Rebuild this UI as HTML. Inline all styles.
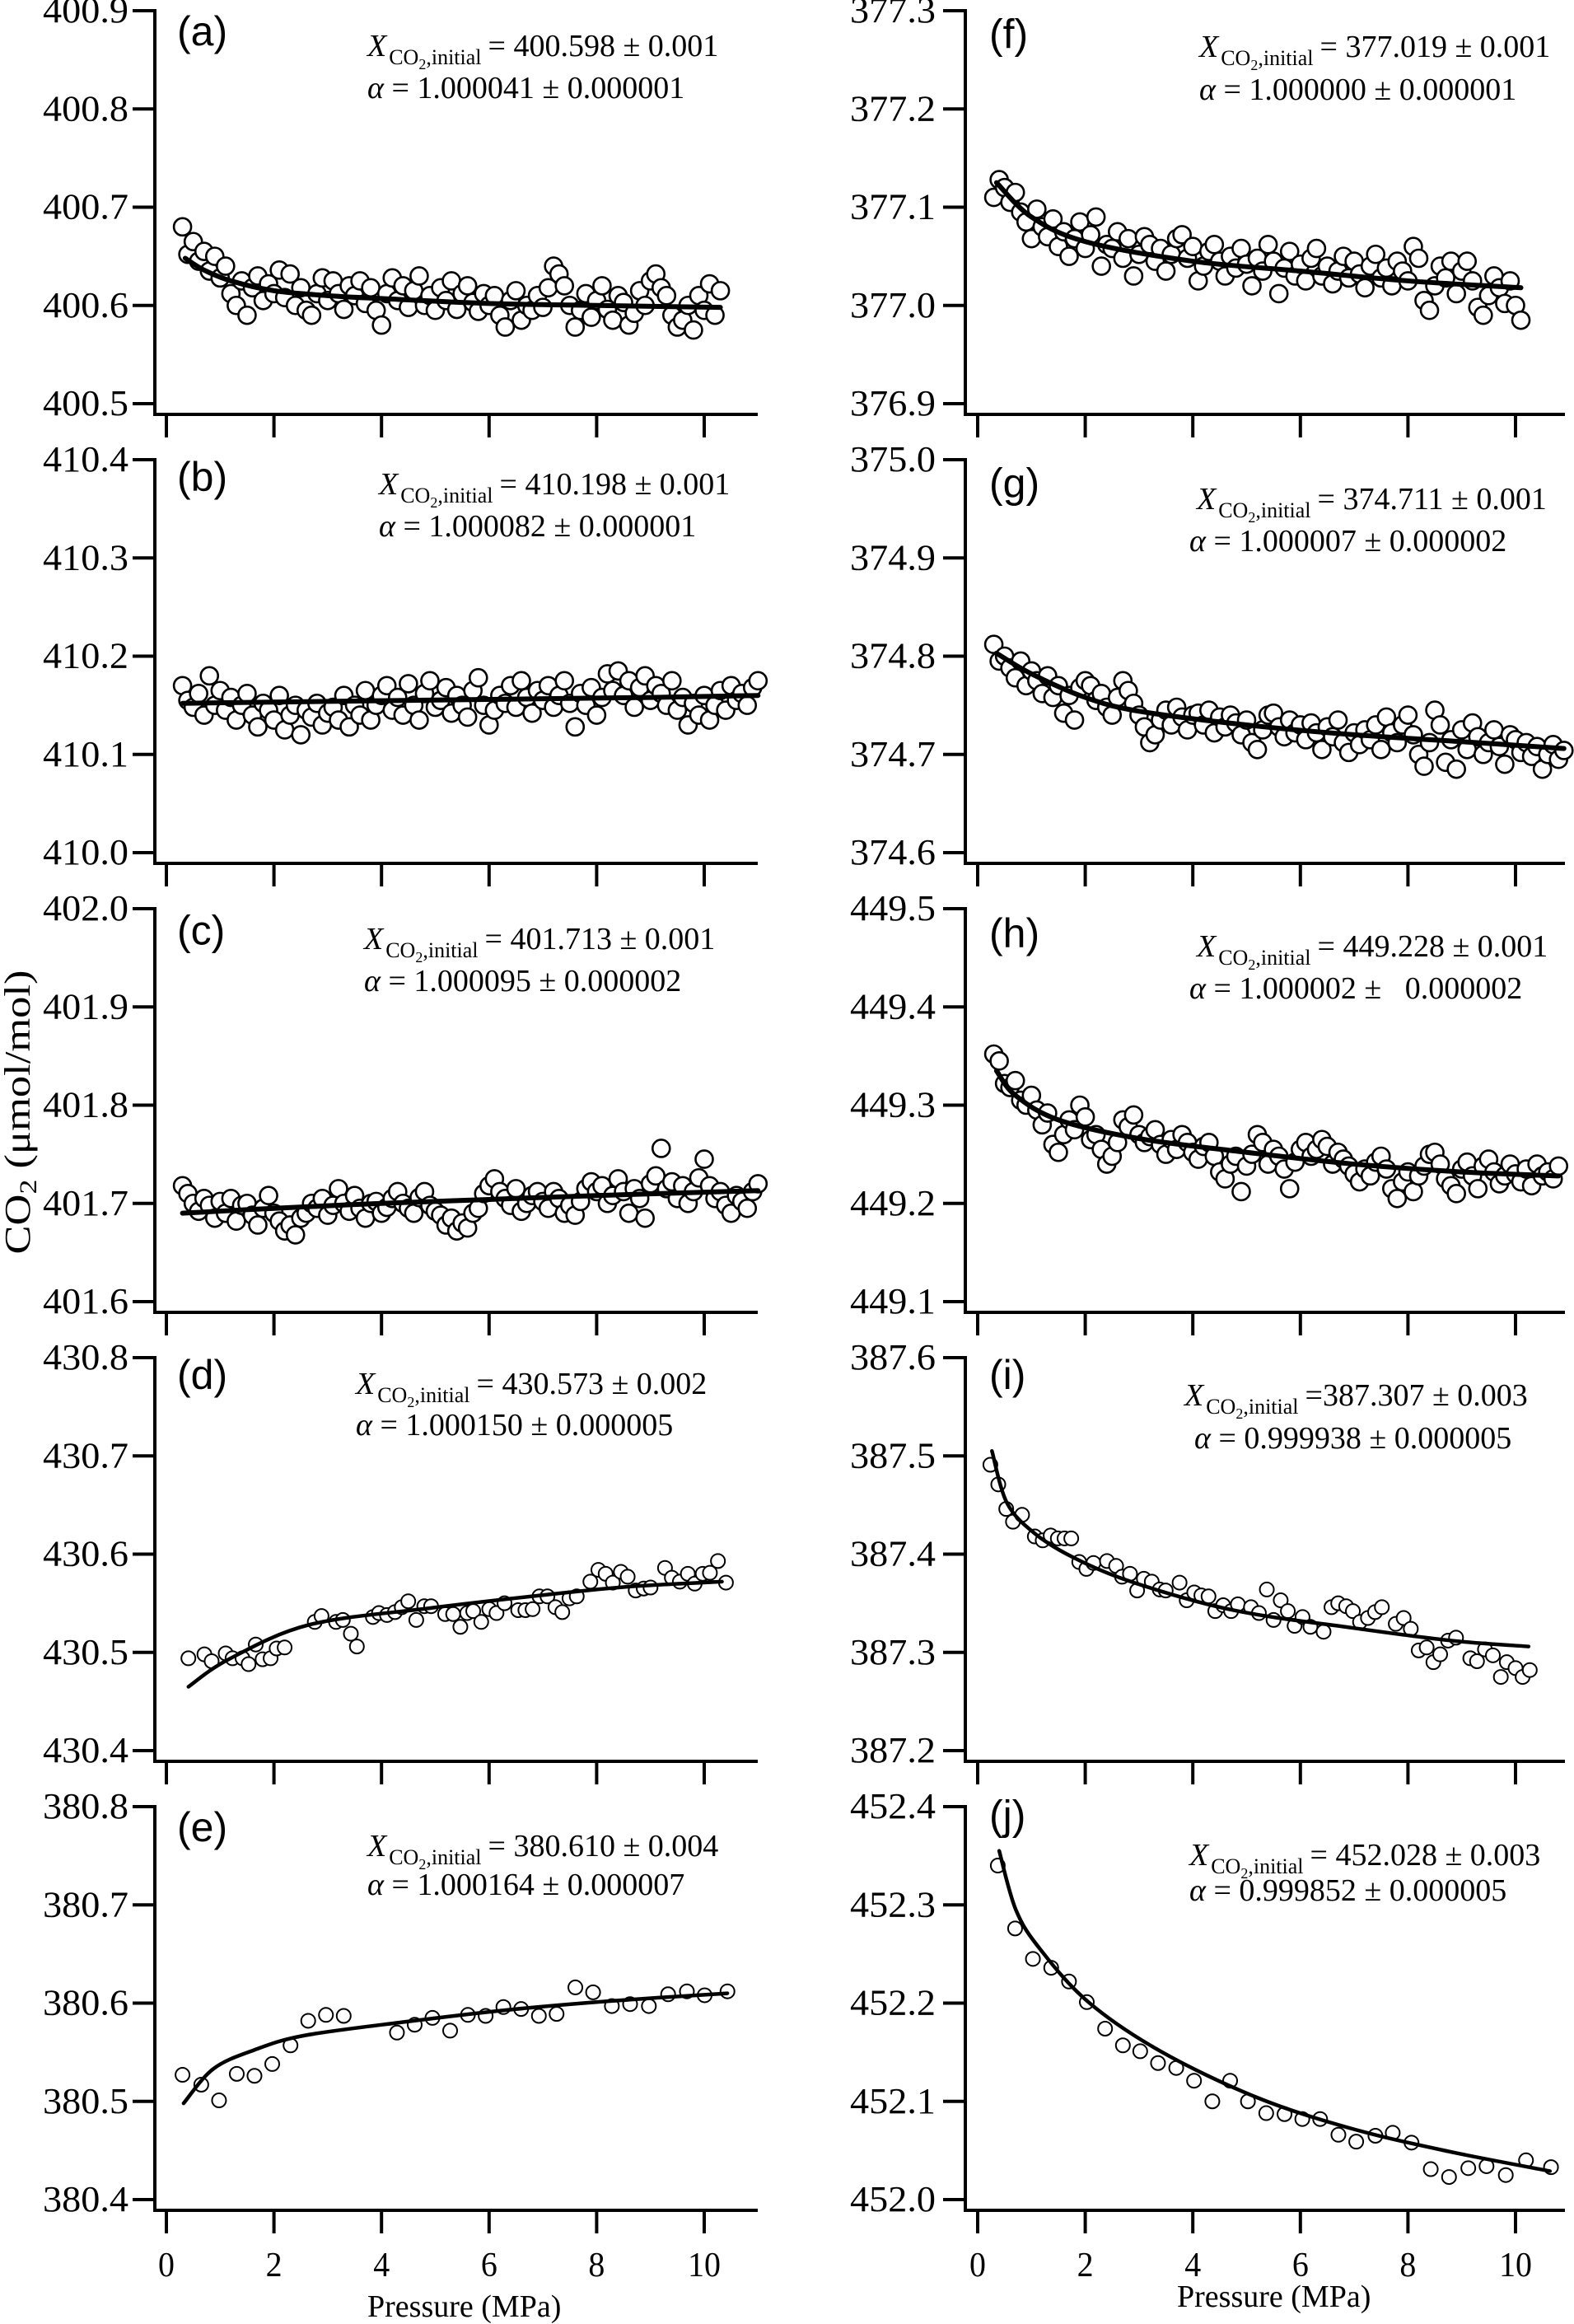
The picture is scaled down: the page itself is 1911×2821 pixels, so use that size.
<!DOCTYPE html>
<html><head><meta charset="utf-8"><title>CO2 vs Pressure panels</title>
<style>
html,body{margin:0;padding:0;background:#fff;}
svg{display:block;}
text{font-family:"Liberation Serif","DejaVu Serif",serif;fill:#000;}
.pl{font-family:"Liberation Sans","DejaVu Sans",sans-serif;}
</style></head>
<body>
<svg id="fig" xmlns="http://www.w3.org/2000/svg" width="1911" height="2821" viewBox="0 0 1911 2821">
<rect width="1911" height="2821" fill="#fff"/>
<text transform="translate(36,1350) rotate(-90)" text-anchor="middle" font-size="44" textLength="345" lengthAdjust="spacingAndGlyphs">CO<tspan font-size="30" dy="8">2</tspan><tspan dy="-8"> (μmol/mol)</tspan></text>
<text x="446" y="2812" font-size="38">Pressure (MPa)</text>
<text x="1429" y="2800" font-size="38">Pressure (MPa)</text>
</svg>
<script>
// ---------- data ----------
const denseP = [0.3,0.4,0.5,0.6,0.7,0.8,0.9,1.0,1.1,1.2,1.3,1.4,1.5,1.6,1.7,1.8,1.9,2.0,2.1,2.2,2.3,2.4,2.5,2.6,2.7,2.8,2.9,3.0,3.1,3.2,3.3,3.4,3.5,3.6,3.7,3.8,3.9,4.0,4.1,4.2,4.3,4.4,4.5,4.6,4.7,4.8,4.9,5.0,5.1,5.2,5.3,5.4,5.5,5.6,5.7,5.8,5.9,6.0,6.1,6.2,6.3,6.4,6.5,6.6,6.7,6.8,6.9,7.0,7.1,7.2,7.3,7.4,7.5,7.6,7.7,7.8,7.9,8.0,8.1,8.2,8.3,8.4,8.5,8.6,8.7,8.8,8.9,9.0,9.1,9.2,9.3,9.4,9.5,9.6,9.7,9.8,9.9,10.0,10.1,10.2,10.3,10.4,10.5,10.6,10.7,10.8,10.9,11.0];

const aV = [400.680,400.652,400.665,400.645,400.655,400.635,400.650,400.628,
400.640,400.612,400.600,400.625,400.590,400.618,400.630,400.605,400.622,400.612,
400.636,400.608,400.632,400.600,400.618,400.595,400.590,400.612,400.628,400.605,
400.625,400.612,400.596,400.620,400.610,400.625,400.602,400.618,400.595,400.580,
400.612,400.628,400.605,400.620,400.598,400.615,400.630,400.600,400.610,400.595,
400.618,400.605,400.625,400.596,400.612,400.620,400.603,400.594,400.612,400.600,
400.610,400.590,400.578,400.605,400.615,400.585,400.600,400.595,400.610,400.598,
400.618,400.640,400.632,400.620,400.600,400.578,400.595,400.612,400.588,400.605,
400.620,400.596,400.585,400.610,400.603,400.580,400.592,400.615,400.600,400.625,
400.632,400.618,400.610,400.590,400.578,400.585,400.600,400.575,400.610,400.595,
400.622,400.590,400.615];
const aFitP = [0.35,0.7,1.2,2,3,4,6,8,10.3];
const aFitV = [400.648,400.636,400.625,400.615,400.610,400.607,400.602,400.600,400.598];

const bV = [410.170,410.155,410.148,410.162,410.140,410.180,410.150,410.165,
410.145,410.158,410.135,410.150,410.162,410.140,410.128,410.152,410.145,410.135,
410.160,410.125,410.140,410.150,410.120,410.145,410.138,410.152,410.130,410.142,
410.148,410.135,410.160,410.128,410.150,410.140,410.165,410.135,410.150,410.160,
410.170,410.145,410.158,410.140,410.172,410.150,410.135,410.162,410.175,410.148,
410.155,410.168,410.142,410.160,410.150,410.138,410.165,410.178,410.150,410.130,
410.145,410.160,410.152,410.170,410.148,410.175,410.158,410.142,410.165,410.155,
410.170,410.148,410.160,410.175,410.152,410.128,410.162,410.150,410.168,410.140,
410.158,410.182,410.165,410.185,410.160,410.175,410.148,410.168,410.180,410.155,
410.170,410.162,410.150,410.175,410.145,410.158,410.130,410.152,410.140,410.160,
410.135,410.150,410.165,410.145,410.170,410.155,410.162,410.150,410.168,410.175];
const bFitP = [0.3,3,6,9,11.0];
const bFitV = [410.152,410.154,410.156,410.158,410.160];

const cV = [401.718,401.710,401.700,401.692,401.705,401.698,401.685,401.702,
401.690,401.705,401.682,401.698,401.700,401.688,401.678,401.695,401.708,401.690,
401.682,401.672,401.678,401.668,401.685,401.690,401.700,401.695,401.705,401.688,
401.698,401.715,401.700,401.692,401.708,401.695,401.685,401.700,401.702,401.690,
401.696,401.705,401.712,401.700,401.695,401.690,401.706,401.712,401.698,401.692,
401.688,401.678,401.685,401.672,401.680,401.675,401.690,401.695,401.710,401.718,
401.725,401.712,401.705,401.698,401.715,401.692,401.700,401.708,401.712,401.702,
401.695,401.712,401.705,401.690,401.698,401.688,401.702,401.715,401.722,401.712,
401.718,401.700,401.708,401.725,401.712,401.690,401.715,401.705,401.685,401.720,
401.728,401.756,401.715,401.722,401.705,401.718,401.700,401.712,401.726,401.745,
401.718,401.705,401.712,401.698,401.690,401.708,401.702,401.695,401.712,401.720];
const cFitP = [0.3,2,4,6,8,11.0];
const cFitV = [401.690,401.695,401.700,401.704,401.708,401.713];

const dP = [0.409,0.707,0.842,1.103,1.230,1.416,1.528,1.662,1.789,1.938,2.050,2.199,2.759,2.885,3.154,3.281,3.430,3.542,3.840,3.952,4.101,4.250,4.377,4.497,4.646,4.795,4.922,5.183,5.332,5.466,5.593,5.705,5.854,6.003,6.138,6.287,6.541,6.675,6.809,6.936,7.085,7.234,7.361,7.495,7.630,7.883,8.032,8.167,8.301,8.450,8.577,8.726,8.875,9.002,9.271,9.398,9.547,9.696,9.823,9.972,10.106,10.255,10.404];
const dV = [430.494,430.498,430.491,430.499,430.494,430.494,430.488,430.508,430.493,430.494,430.504,430.505,430.531,430.537,430.531,430.533,430.519,430.506,430.536,430.540,430.538,430.541,430.546,430.552,430.533,430.547,430.547,430.539,430.539,430.526,430.540,430.542,430.531,430.544,430.540,430.550,430.543,430.543,430.544,430.557,430.557,430.546,430.541,430.555,430.557,430.572,430.584,430.580,430.571,430.582,430.577,430.563,430.565,430.566,430.586,430.576,430.572,430.580,430.570,430.580,430.581,430.593,430.571];
const dFitP = [0.41,1.16,2.65,4.89,7.12,8.61,10.33];
const dFitV = [430.465,430.493,430.528,430.545,430.559,430.567,430.572];

const eP = [0.300,0.649,0.979,1.309,1.638,1.968,2.308,2.637,2.967,3.297,4.287,4.617,4.947,5.276,5.606,5.936,6.266,6.596,6.926,7.255,7.604,7.934,8.283,8.622,8.971,9.329,9.678,10.008,10.432];
const eV = [380.527,380.517,380.501,380.528,380.526,380.538,380.557,380.582,380.588,380.587,380.570,380.578,380.585,380.572,380.588,380.587,380.596,380.594,380.587,380.589,380.616,380.611,380.597,380.599,380.597,380.609,380.612,380.608,380.612];
const eFitP = [0.32,0.87,1.62,2.56,4.45,6.33,8.22,10.43];
const eFitV = [380.498,380.533,380.552,380.567,380.581,380.593,380.602,380.610];

const fV = [377.110,377.128,377.120,377.105,377.115,377.095,377.085,377.068,
377.098,377.080,377.070,377.088,377.060,377.075,377.050,377.068,377.085,377.058,
377.072,377.090,377.040,377.062,377.058,377.075,377.048,377.068,377.030,377.052,
377.070,377.062,377.045,377.058,377.035,377.052,377.068,377.072,377.048,377.060,
377.025,377.040,377.055,377.062,377.045,377.030,377.050,377.038,377.058,377.042,
377.020,377.048,377.035,377.062,377.045,377.012,377.038,377.055,377.030,377.042,
377.025,377.048,377.058,377.030,377.040,377.022,377.035,377.050,377.028,377.045,
377.032,377.018,377.040,377.052,377.028,377.038,377.020,377.045,377.035,377.025,
377.060,377.048,377.005,376.995,377.020,377.040,377.028,377.045,377.012,377.035,
377.045,377.025,376.998,376.990,377.010,377.030,377.018,377.002,377.025,377.000,376.985];
const fFitP = [0.35,1,2,4,6,8,10.1];
const fFitV = [377.125,377.090,377.065,377.045,377.035,377.025,377.018];

const gV = [374.812,374.795,374.800,374.788,374.778,374.795,374.770,374.785,
374.775,374.762,374.780,374.758,374.770,374.742,374.760,374.735,374.768,374.775,
374.770,374.755,374.762,374.748,374.740,374.758,374.775,374.765,374.752,374.740,
374.728,374.712,374.720,374.735,374.745,374.730,374.748,374.738,374.725,374.740,
374.742,374.730,374.745,374.722,374.738,374.728,374.740,374.732,374.720,374.735,
374.712,374.705,374.725,374.740,374.742,374.728,374.718,374.735,374.722,374.730,
374.715,374.732,374.722,374.705,374.728,374.718,374.735,374.712,374.702,374.722,
374.710,374.725,374.715,374.730,374.705,374.738,374.722,374.712,374.730,374.740,
374.720,374.700,374.688,374.712,374.745,374.730,374.692,374.715,374.685,374.725,
374.705,374.732,374.718,374.700,374.712,374.725,374.708,374.690,374.720,374.715,
374.702,374.712,374.698,374.708,374.685,374.700,374.710,374.695,374.704];
const gFitP = [0.35,1,2,3,5,7,9,10.9];
const gFitV = [374.803,374.782,374.758,374.744,374.730,374.720,374.713,374.706];

const hV = [449.352,449.345,449.322,449.318,449.325,449.305,449.300,449.310,
449.295,449.280,449.292,449.260,449.252,449.270,449.285,449.275,449.300,449.288,
449.265,449.270,449.255,449.240,449.248,449.262,449.285,449.278,449.290,449.270,
449.262,449.268,449.275,449.260,449.250,449.265,449.255,449.270,449.262,449.252,
449.245,449.258,449.262,449.248,449.232,449.225,449.240,449.248,449.212,449.238,
449.250,449.270,449.262,449.240,449.255,449.248,449.235,449.215,449.242,449.255,
449.262,449.248,449.255,449.265,449.258,449.240,449.252,449.245,449.238,449.230,
449.222,449.235,449.228,449.242,449.248,449.235,449.215,449.205,449.222,449.232,
449.212,449.228,449.238,449.250,449.252,449.240,449.225,449.218,449.210,449.235,
449.242,449.228,449.215,449.238,449.245,449.232,449.220,449.228,449.240,449.230,
449.222,449.235,449.218,449.240,449.228,449.232,449.225,449.238];
const hFitP = [0.35,0.7,1.5,3,5,7,9,10.8];
const hFitV = [449.335,449.310,449.285,449.266,449.252,449.240,449.232,449.228];

const iP = [0.236,0.383,0.531,0.656,0.826,1.062,1.209,1.357,1.490,1.615,1.740,1.888,2.021,2.153,2.404,2.574,2.684,2.832,2.965,3.090,3.237,3.385,3.496,3.754,3.886,4.026,4.159,4.292,4.417,4.565,4.712,4.838,5.081,5.229,5.376,5.501,5.634,5.767,5.892,6.040,6.187,6.431,6.578,6.703,6.851,6.976,7.109,7.256,7.389,7.515,7.773,7.920,8.053,8.200,8.348,8.473,8.599,8.746,8.894,9.159,9.284,9.432,9.579,9.727,9.838,10.000,10.132,10.265];
const iV = [387.491,387.471,387.446,387.433,387.440,387.418,387.414,387.419,387.416,387.416,387.416,387.392,387.385,387.391,387.393,387.388,387.377,387.380,387.363,387.375,387.372,387.364,387.363,387.371,387.353,387.361,387.358,387.357,387.342,387.348,387.342,387.349,387.346,387.340,387.364,387.333,387.353,387.342,387.327,387.336,387.326,387.321,387.346,387.350,387.347,387.342,387.331,387.335,387.341,387.346,387.329,387.335,387.324,387.302,387.305,387.290,387.298,387.312,387.315,387.294,387.291,387.303,387.297,387.275,387.290,387.284,387.275,387.282];
const iFitP = [0.265,0.546,1.062,1.8,2.906,4.749,6.961,8.805,10.243];
const iFitV = [387.505,387.452,387.421,387.396,387.371,387.343,387.325,387.312,387.306];

const jP = [0.374,0.696,1.027,1.367,1.698,2.029,2.369,2.700,3.022,3.353,3.692,4.023,4.363,4.694,5.025,5.365,5.705,6.036,6.367,6.707,7.038,7.395,7.717,8.066,8.424,8.764,9.122,9.461,9.819,10.195,10.660];
const jV = [452.340,452.276,452.245,452.236,452.222,452.201,452.174,452.157,452.151,452.139,452.134,452.121,452.100,452.121,452.100,452.088,452.087,452.082,452.082,452.066,452.059,452.065,452.068,452.058,452.031,452.023,452.032,452.034,452.025,452.040,452.033];
const jFitP = [0.40,0.71,1.16,2.06,3.40,5.19,6.97,8.76,10.64];
const jFitV = [452.355,452.295,452.255,452.201,452.151,452.104,452.072,452.049,452.029];

// y tick values
const aTicks = [400.5,400.6,400.7,400.8,400.9];
const bTicks = [410.0,410.1,410.2,410.3,410.4];
const cTicks = [401.6,401.7,401.8,401.9,402.0];
const dTicks = [430.4,430.5,430.6,430.7,430.8];
const eTicks = [380.4,380.5,380.6,380.7,380.8];
const fTicks = [376.9,377.0,377.1,377.2,377.3];
const gTicks = [374.6,374.7,374.8,374.9,375.0];
const hTicks = [449.1,449.2,449.3,449.4,449.5];
const iTicks = [387.2,387.3,387.4,387.5,387.6];
const jTicks = [452.0,452.1,452.2,452.3,452.4];
const xTicks = [0,2,4,6,8,10];

// annotation strings
const xInit = ["= 400.598 ± 0.001","= 410.198 ± 0.001","= 401.713 ± 0.001","= 430.573 ± 0.002","= 380.610 ± 0.004",
               "= 377.019 ± 0.001","= 374.711 ± 0.001","= 449.228 ± 0.001","=387.307 ± 0.003","= 452.028 ± 0.003"];
const alphas = ["1.000041 ± 0.000001","1.000082 ± 0.000001","1.000095 ± 0.000002","1.000150 ± 0.000005","1.000164 ± 0.000007",
                "1.000000 ± 0.000001","1.000007 ± 0.000002","1.000002 ±   0.000002","0.999938 ± 0.000005","0.999852 ± 0.000005"];

// ---------- layout ----------
const NS = "http://www.w3.org/2000/svg";
const svg = document.getElementById('fig');
const PXM = 65.3, SPAN = 477;
const cols = [{ax:188, x0:202, xEnd:920, tickLbl:156, plx:215},
              {ax:1172, x0:1187, xEnd:1900, tickLbl:1136, plx:1201}];
const panels = [
 {id:'a',c:0,r:0,P:denseP,V:aV,fP:aFitP,fV:aFitV,t:aTicks,lo:11,ax:446,aa:446,y1:68,y2:119,dense:1},
 {id:'b',c:0,r:1,P:denseP,V:bV,fP:bFitP,fV:bFitV,t:bTicks,lo:9,ax:460,aa:460,y1:600,y2:651,dense:1},
 {id:'c',c:0,r:2,P:denseP,V:cV,fP:cFitP,fV:cFitV,t:cTicks,lo:12,ax:442,aa:442,y1:1152,y2:1203,dense:1},
 {id:'d',c:0,r:3,P:dP,V:dV,fP:dFitP,fV:dFitV,t:dTicks,lo:9,ax:432,aa:432,y1:1692,y2:1742,dense:0},
 {id:'e',c:0,r:4,P:eP,V:eV,fP:eFitP,fV:eFitV,t:eTicks,lo:11,ax:446,aa:446,y1:2253,y2:2300,dense:0},
 {id:'f',c:1,r:0,P:denseP,V:fV,fP:fFitP,fV:fFitV,t:fTicks,lo:13,ax:1456,aa:1456,y1:69,y2:121,dense:1},
 {id:'g',c:1,r:1,P:denseP,V:gV,fP:gFitP,fV:gFitV,t:gTicks,lo:13,ax:1453,aa:1444,y1:618,y2:669,dense:1},
 {id:'h',c:1,r:2,P:denseP,V:hV,fP:hFitP,fV:hFitV,t:hTicks,lo:14,ax:1453,aa:1444,y1:1161,y2:1212,dense:1},
 {id:'i',c:1,r:3,P:iP,V:iV,fP:iFitP,fV:iFitV,t:iTicks,lo:9,ax:1438,aa:1450,y1:1706,y2:1758,dense:0},
 {id:'j',c:1,r:4,P:jP,V:jV,fP:jFitP,fV:jFitV,t:jTicks,lo:3,ax:1444,aa:1444,y1:2264,y2:2307,dense:0}
];

function el(tag, attrs, parent){
  const e = document.createElementNS(NS, tag);
  for (const k in attrs) e.setAttribute(k, attrs[k]);
  (parent||svg).appendChild(e);
  return e;
}

panels.forEach((p, idx) => {
  const col = cols[p.c];
  const top = 13 + 545*p.r, bottom = top + SPAN, axisY = bottom + 13;
  const vmin = p.t[0], vmax = p.t[p.t.length-1];
  const xs = P => col.x0 + P*PXM;
  const ys = v => bottom - (v - vmin)/(vmax - vmin)*SPAN;

  const g = el('g', {});
  
  

  const yAx = el('line', {x1:col.ax, y1:top-2, x2:col.ax, y2:axisY+2, stroke:'#000','stroke-width':4}, g);
  
  
  const xAx = el('line', {x1:col.ax-2, y1:axisY, x2:col.xEnd, y2:axisY, stroke:'#000','stroke-width':4}, g);
  
  

  p.t.forEach(v => {
    const y = ys(v);
    const tk = el('line', {x1:col.ax-27, y1:y, x2:col.ax, y2:y, stroke:'#000','stroke-width':4}, g);
    
    
    const tl = el('text', {transform:`translate(${col.tickLbl},${y+14}) scale(1.05,1)`, 'text-anchor':'end','font-size':44}, g);
    
    
    tl.textContent = v.toFixed(1);
  });
  xTicks.forEach(P => {
    const x = xs(P);
    const tk = el('line', {x1:x, y1:axisY, x2:x, y2:axisY+28, stroke:'#000','stroke-width':4}, g);
    
    
    if (p.r === 4) {
      const tl = el('text', {transform:`translate(${x},2763) scale(0.95,1)`, 'text-anchor':'middle','font-size':42}, g);
      
      
      tl.textContent = String(P);
    }
  });

  const rad = p.dense ? 10.5 : 8.5;
  const sw = p.dense ? 2.6 : 2;
  for (let k = 0; k < p.V.length; k++) {
    const c = el('circle', {cx:xs(p.P[k]), cy:ys(p.V[k]), r:rad, fill:'#fff', stroke:'#000','stroke-width':sw}, g);
    
    
  }

  const pts = p.fP.map((P,k) => [xs(P), ys(p.fV[k])]);
  let d = `M${pts[0][0]},${pts[0][1]}`;
  for (let k = 0; k < pts.length-1; k++) {
    const p0 = pts[Math.max(0,k-1)], p1 = pts[k], p2 = pts[k+1], p3 = pts[Math.min(pts.length-1,k+2)];
    const c1 = [p1[0]+(p2[0]-p0[0])/6, p1[1]+(p2[1]-p0[1])/6];
    const c2 = [p2[0]-(p3[0]-p1[0])/6, p2[1]-(p3[1]-p1[1])/6];
    d += ` C${c1[0]},${c1[1]} ${c2[0]},${c2[1]} ${p2[0]},${p2[1]}`;
  }
  const fit = el('path', {d:d, fill:'none', stroke:'#000','stroke-width':p.dense?6:4.5,'stroke-linecap':'round'}, g);
  
  

  const pl = el('text', {x:col.plx, y:top + p.lo*1.8 + 22, 'font-size':50, class:'pl'}, g);
  
  
  pl.textContent = '(' + p.id + ')';

  const a1 = el('text', {x:p.ax, y:p.y1, 'font-size':38, style:'white-space:pre'}, g);
  
  
  a1.innerHTML = '<tspan font-style="italic">X</tspan><tspan font-size="26" dy="10" dx="3">CO</tspan><tspan font-size="18" dy="6">2</tspan><tspan font-size="26" dy="-6">,initial</tspan><tspan dy="-10" dx="8"></tspan>';
  a1.lastChild.textContent = xInit[idx];
  const a2 = el('text', {x:p.aa, y:p.y2, 'font-size':38, style:'white-space:pre'}, g);
  
  
  a2.innerHTML = '<tspan font-style="italic">α</tspan><tspan></tspan>';
  a2.lastChild.textContent = ' = ' + alphas[idx];
});
</script>
</body></html>
